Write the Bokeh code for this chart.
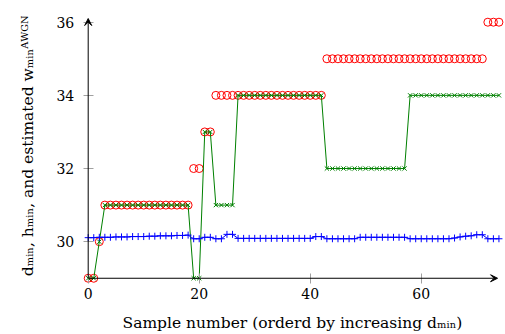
import math
from bokeh.plotting import figure
from bokeh.models import Arrow, VeeHead, FixedTicker, Range1d, Label
from bokeh.embed import file_html
from bokeh.resources import INLINE

# ---- data ----
sample = list(range(75))
d_min = [29]*2 + [30] + [31]*16 + [32]*2 + [33]*2 + [34]*20 + [35]*29 + [36]*3
h_min = [29]*2 + [30] + [31]*16 + [29]*2 + [33]*2 + [31]*4 + [34]*16 + [32]*15 + [34]*17
w_est = ([30.11, 30.11, 30.12, 30.12, 30.12, 30.13, 30.13, 30.13, 30.14, 30.14,
          30.14, 30.15, 30.15, 30.16, 30.16, 30.16, 30.17, 30.17, 30.18]
         + [30.08, 30.08, 30.12, 30.12, 30.08, 30.08, 30.20, 30.20]
         + [30.09]*14
         + [30.14, 30.14]
         + [30.08]*6
         + [30.12]*9
         + [30.08]*8
         + [30.10, 30.13, 30.15, 30.16, 30.19, 30.19]
         + [30.08]*3)
x_ticks = [0, 20, 40, 60]
y_ticks = [30, 32, 34, 36]
x_label = "Sample number (orderd by increasing dₘᵢₙ)"
y_label = "dₘᵢₙ, hₘᵢₙ, and estimated wₘᵢₙᴬᵂᴳᴺ"

FONT = "DejaVu Serif"
W, H = 504, 333
x0, x1 = -15.80, 75.0
y0, y1 = 27.49, 36.593

p = figure(width=W, height=H, x_range=Range1d(x0, x1), y_range=Range1d(y0, y1),
           output_backend="svg", toolbar_location=None,
           min_border_left=0, min_border_right=0, min_border_top=0, min_border_bottom=0)
p.outline_line_color = None
p.xgrid.visible = False
p.ygrid.visible = False

for ax in (p.xaxis[0], p.yaxis[0]):
    ax.axis_line_color = None
    ax.major_tick_line_color = "#a0a0a0"
    ax.major_tick_in = 5
    ax.major_tick_out = 5
    ax.minor_tick_line_color = None
    ax.major_label_text_font = FONT
    ax.major_label_text_font_size = "14px"
    ax.major_label_text_color = "black"

p.xaxis[0].ticker = FixedTicker(ticks=x_ticks)
p.yaxis[0].ticker = FixedTicker(ticks=y_ticks)
p.xaxis[0].fixed_location = 29
p.yaxis[0].fixed_location = 0
p.xaxis[0].major_label_standoff = 5
p.yaxis[0].major_label_standoff = 9

# axis titles
p.add_layout(Label(x=36.8, y=27.79, text=x_label,
                   text_align="center", text_baseline="middle",
                   text_font=FONT, text_font_size="15.5px", text_color="black"))
p.add_layout(Label(x=-10.9, y=32.62, text=y_label, angle=math.pi / 2,
                   text_align="center", text_baseline="middle",
                   text_font=FONT, text_font_size="15.5px", text_color="black"))

# axis lines with arrow heads
p.add_layout(Arrow(end=VeeHead(size=7, fill_color="black", line_color="black", line_width=1),
                   x_start=0, y_start=29, x_end=73.75, y_end=29, line_color="black", line_width=1))
p.add_layout(Arrow(end=VeeHead(size=7, fill_color="black", line_color="black", line_width=1),
                   x_start=0, y_start=29, x_end=0, y_end=36.1, line_color="black", line_width=1))

# series
p.scatter(sample, d_min, marker="circle", size=8, fill_color=None, line_color="red", line_width=1)
p.line(sample, h_min, line_color="green", line_width=1)
p.scatter(sample, h_min, marker="x", size=6, line_color="green", line_width=1)
p.line(sample, w_est, line_color="blue", line_width=1)
p.scatter(sample, w_est, marker="cross", size=7, line_color="blue", line_width=1)

open("out.html", "w").write(file_html(p, INLINE))
